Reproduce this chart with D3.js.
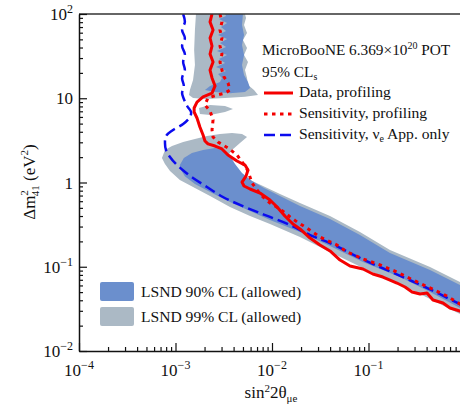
<!DOCTYPE html>
<html>
<head>
<meta charset="utf-8">
<script src="https://cdn.jsdelivr.net/npm/d3@7"></script>
<style>
  body { margin: 0; background: #fff; }
  text { font-family: "Liberation Serif", "DejaVu Serif", serif; fill: #111; }
</style>
</head>
<body>
<svg id="drawing_region"></svg>
<script>
// tick labels
const xTicks = [1e-4, 1e-3, 1e-2, 1e-1];
const xTickExp = ['−4', '−3', '−2', '−1'];
const yTicks = [1e-2, 1e-1, 1, 10, 100];
const yTickBase = ['10', '10', '1', '10', '10'];
const yTickExp = ['−2', '−1', '', '', '2'];

// LSND 99% CL regions  [sin^2 2theta, dm^2]
const lsnd99Main = [
  [7.24e-4, 1.95], [7.78e-4, 2.43], [9.20e-4, 2.71], [1.20e-3, 3.02], [1.59e-3, 3.28],
  [2.12e-3, 3.56], [2.89e-3, 3.77], [3.85e-3, 3.87], [4.89e-3, 3.77], [5.51e-3, 3.47],
  [4.66e-3, 2.94], [3.85e-3, 2.43], [3.42e-3, 2.01], [3.58e-3, 1.61], [4.24e-3, 1.30],
  [5.92e-3, 1.07], [8.07e-3, 0.908], [1.21e-2, 0.730], [1.95e-2, 0.571], [3.99e-2, 0.400],
  [8.16e-2, 0.258], [0.167, 0.158], [0.434, 0.0993], [0.887, 0.0659], [1.13, 0.0607],
  [1.13, 0.0240], [0.887, 0.0275], [0.434, 0.0414], [0.212, 0.0624], [8.77e-2, 0.0966],
  [3.99e-2, 0.150], [1.95e-2, 0.225], [9.53e-3, 0.322], [5.92e-3, 0.400], [3.67e-3, 0.512],
  [2.28e-3, 0.692], [1.59e-3, 0.861], [1.11e-3, 1.07], [8.77e-4, 1.37], [7.78e-4, 1.66]
];
const lsnd99Upper = [
  [1.63e-3, 100], [1.59e-3, 64.6], [1.56e-3, 37.4], [1.59e-3, 24.8], [1.52e-3, 16.5],
  [1.41e-3, 12.5], [1.38e-3, 10.9], [1.52e-3, 10.1], [2.02e-3, 9.80], [3.26e-3, 10.1],
  [5.25e-3, 10.4], [7.16e-3, 10.9], [6.51e-3, 12.5], [5.64e-3, 14.4], [5.51e-3, 17.4],
  [5.25e-3, 21.6], [5.64e-3, 26.9], [5.13e-3, 32.6], [5.51e-3, 39.5], [5.00e-3, 49.1],
  [5.51e-3, 59.4], [5.13e-3, 74.0], [5.38e-3, 89.7], [5.25e-3, 100]
];
const lsnd99Island = [
  [1.75e-3, 7.66], [2.28e-3, 8.32], [3.26e-3, 8.09], [3.94e-3, 7.46],
  [3.26e-3, 6.87], [2.28e-3, 6.33], [1.79e-3, 6.50]
];

// LSND 90% CL regions
const lsnd90Main = [
  [1.11e-3, 1.61], [1.22e-3, 1.95], [1.48e-3, 2.24], [1.93e-3, 2.43], [2.57e-3, 2.57],
  [3.26e-3, 2.37], [3.67e-3, 2.06], [4.14e-3, 1.66], [4.89e-3, 1.30], [6.21e-3, 1.04],
  [8.27e-3, 0.861], [1.21e-2, 0.692], [1.95e-2, 0.526], [3.99e-2, 0.369], [8.16e-2, 0.238],
  [0.167, 0.146], [0.434, 0.0915], [0.887, 0.0607], [1.13, 0.0560],
  [1.13, 0.0298], [0.887, 0.0324], [0.434, 0.0502], [0.212, 0.0755], [8.77e-2, 0.114],
  [3.99e-2, 0.176], [1.95e-2, 0.258], [9.53e-3, 0.359], [5.92e-3, 0.459], [3.67e-3, 0.587],
  [2.28e-3, 0.771], [1.59e-3, 0.959], [1.25e-3, 1.19], [1.11e-3, 1.49]
];
const lsnd90Upper = [
  [3.26e-3, 100], [5.00e-3, 100], [4.89e-3, 74.0], [5.13e-3, 56.3], [4.89e-3, 42.9],
  [5.13e-3, 32.6], [4.89e-3, 24.8], [5.13e-3, 18.9], [5.64e-3, 15.6], [5.92e-3, 13.2],
  [5.25e-3, 11.9], [3.67e-3, 11.5], [2.57e-3, 11.9], [2.02e-3, 12.5], [2.28e-3, 14.0],
  [2.89e-3, 15.6], [3.03e-3, 17.4], [2.76e-3, 19.4], [3.34e-3, 21.0], [2.63e-3, 23.5],
  [3.26e-3, 26.2], [2.82e-3, 29.2], [3.42e-3, 32.6], [2.69e-3, 36.4], [3.34e-3, 40.6],
  [2.89e-3, 45.3], [3.42e-3, 50.5], [2.76e-3, 56.3], [3.34e-3, 62.8], [2.96e-3, 70.1],
  [3.42e-3, 78.2], [2.82e-3, 87.3], [3.34e-3, 94.7]
];

// MicroBooNE contours
const dataProfiling = [
  [2.39e-3, 100], [2.28e-3, 80.4], [2.45e-3, 64.6], [2.28e-3, 51.9], [2.39e-3, 41.7],
  [2.28e-3, 33.5], [2.45e-3, 26.9], [2.28e-3, 21.6], [2.39e-3, 17.4], [2.57e-3, 14.0],
  [2.39e-3, 11.5], [1.93e-3, 10.4], [1.67e-3, 9.02], [1.56e-3, 7.66], [1.56e-3, 6.87],
  [1.67e-3, 5.83], [1.79e-3, 4.56], [1.93e-3, 3.66], [2.02e-3, 3.11], [2.17e-3, 2.87],
  [2.57e-3, 2.71], [3.03e-3, 2.50], [3.50e-3, 2.12], [4.34e-3, 1.80], [5.25e-3, 1.61],
  [5.64e-3, 1.41], [5.38e-3, 1.19], [4.89e-3, 1.01], [5.13e-3, 0.908], [5.92e-3, 0.837],
  [7.51e-3, 0.750], [9.53e-3, 0.620], [1.13e-2, 0.512], [1.36e-2, 0.400], [1.65e-2, 0.322],
  [1.95e-2, 0.281], [2.48e-2, 0.219], [3.14e-2, 0.181], [3.99e-2, 0.154], [5.07e-2, 0.120],
  [6.43e-2, 0.102], [8.77e-2, 0.0940], [0.111, 0.0820], [0.141, 0.0755], [0.167, 0.0696],
  [0.197, 0.0641], [0.239, 0.0575], [0.283, 0.0502], [0.342, 0.0475], [0.404, 0.0488],
  [0.466, 0.0403], [0.592, 0.0371], [0.699, 0.0324], [0.887, 0.0298], [1.0, 0.0283]
];
const sensProfiling = [
  [2.89e-3, 100], [3.03e-3, 80.4], [2.89e-3, 64.6], [3.03e-3, 51.9], [2.89e-3, 41.7],
  [3.03e-3, 33.5], [2.89e-3, 26.9], [3.03e-3, 21.6], [3.18e-3, 17.9], [3.50e-3, 15.2],
  [3.67e-3, 12.5], [3.26e-3, 11.5], [2.69e-3, 10.9], [2.17e-3, 10.1], [2.02e-3, 8.32],
  [2.28e-3, 7.06], [2.45e-3, 5.52], [2.39e-3, 4.20], [2.45e-3, 3.47], [2.76e-3, 3.02],
  [3.10e-3, 2.79], [3.50e-3, 2.57], [4.34e-3, 2.12], [4.89e-3, 1.75], [5.38e-3, 1.53],
  [5.78e-3, 1.26], [6.21e-3, 0.986], [6.99e-3, 0.814], [8.07e-3, 0.673], [9.53e-3, 0.571],
  [1.21e-2, 0.485], [1.54e-2, 0.390], [1.82e-2, 0.340], [2.30e-2, 0.288], [3.14e-2, 0.225],
  [4.72e-2, 0.181], [5.98e-2, 0.150], [8.77e-2, 0.124], [0.132, 0.105], [0.197, 0.0866],
  [0.289, 0.0696], [0.434, 0.0560], [0.650, 0.0450], [0.887, 0.0361], [1.0, 0.0342]
];
const sensNueApp = [
  [1.20e-3, 100], [1.25e-3, 80.4], [1.17e-3, 64.6], [1.25e-3, 51.9], [1.17e-3, 41.7],
  [1.25e-3, 33.5], [1.20e-3, 26.9], [1.25e-3, 21.6], [1.17e-3, 17.4], [1.22e-3, 14.0],
  [1.17e-3, 11.5], [1.22e-3, 9.80], [1.32e-3, 8.09], [1.45e-3, 6.87], [1.41e-3, 5.99],
  [1.20e-3, 4.95], [9.42e-4, 4.20], [7.97e-4, 3.56], [7.78e-4, 2.94], [7.97e-4, 2.43],
  [8.77e-4, 2.01], [1.01e-3, 1.66], [1.22e-3, 1.37], [1.52e-3, 1.13], [2.12e-3, 0.884],
  [3.10e-3, 0.673], [4.66e-3, 0.541], [6.99e-3, 0.447], [9.53e-3, 0.390], [1.54e-2, 0.313],
  [2.48e-2, 0.238], [3.99e-2, 0.191], [8.77e-2, 0.122], [0.167, 0.0880], [0.434, 0.0540],
  [0.887, 0.0361], [1.0, 0.0342]
];

const config = {
  width: 460, height: 405,
  left: 79, right: 465, top: 14, bottom: 351
};
const blueFill = '#6b8fcd';
const grayFill = '#abb9c5';
const red = '#f40000';
const blue = '#0b0bee';

const svg = d3.select('#drawing_region')
  .attr('width', config.width)
  .attr('height', config.height);

const x = d3.scaleLog().domain([1e-4, 1]).range([config.left, config.right]);
const y = d3.scaleLog().domain([1e-2, 1e2]).range([config.bottom, config.top]);

svg.append('clipPath').attr('id', 'plot_clip')
  .append('rect')
  .attr('x', config.left).attr('y', config.top)
  .attr('width', config.right - config.left)
  .attr('height', config.bottom - config.top);

const chart = svg.append('g').attr('clip-path', 'url(#plot_clip)');

const area = d3.line().x(d => x(d[0])).y(d => y(d[1])).curve(d3.curveLinearClosed);
const line = d3.line().x(d => x(d[0])).y(d => y(d[1]));
const smooth = d3.line().x(d => x(d[0])).y(d => y(d[1])).curve(d3.curveCatmullRom);

[lsnd99Main, lsnd99Upper, lsnd99Island].forEach(r => {
  chart.append('path').attr('d', area(r)).attr('fill', grayFill);
});
[lsnd90Main, lsnd90Upper].forEach(r => {
  chart.append('path').attr('d', area(r)).attr('fill', blueFill);
});

chart.append('path').attr('d', smooth(sensNueApp))
  .attr('fill', 'none').attr('stroke', blue)
  .attr('stroke-width', 2.5).attr('stroke-dasharray', '11,5');
chart.append('path').attr('d', line(sensProfiling))
  .attr('fill', 'none').attr('stroke', red)
  .attr('stroke-width', 3).attr('stroke-dasharray', '3.5,4.5');
chart.append('path').attr('d', line(dataProfiling))
  .attr('fill', 'none').attr('stroke', red)
  .attr('stroke-width', 3).attr('stroke-linejoin', 'round');

// frame + axes
svg.append('line')
  .attr('x1', config.left).attr('x2', config.right)
  .attr('y1', config.top).attr('y2', config.top)
  .attr('stroke', '#333').attr('stroke-width', 1.5);

const xAxis = svg.append('g')
  .attr('transform', `translate(0, ${config.bottom})`)
  .call(d3.axisBottom(x).tickValues(x.ticks()).tickSize(-4).tickSizeOuter(0).tickFormat(''));
const yAxis = svg.append('g')
  .attr('transform', `translate(${config.left}, 0)`)
  .call(d3.axisLeft(y).tickValues(y.ticks()).tickSize(-4).tickSizeOuter(0).tickFormat(''));

const isMajor = v => Math.abs(Math.log10(v) - Math.round(Math.log10(v))) < 1e-6;
xAxis.selectAll('.tick line').attr('y2', d => isMajor(d) ? -8 : -4);
yAxis.selectAll('.tick line').attr('x2', d => isMajor(d) ? 8 : 4);
[xAxis, yAxis].forEach(a => {
  a.select('.domain').attr('stroke', '#111').attr('stroke-width', 1.5);
  a.selectAll('.tick line').attr('stroke', '#111').attr('stroke-width', 1.2);
});

xTicks.forEach((v, i) => {
  const t = svg.append('text')
    .attr('x', x(v)).attr('y', 376)
    .attr('text-anchor', 'middle')
    .style('font-size', '17px');
  t.append('tspan').text('10');
  t.append('tspan').attr('dy', -7).style('font-size', '12px').text(xTickExp[i]);
});

yTicks.forEach((v, i) => {
  const t = svg.append('text')
    .attr('x', 73).attr('y', y(v) + 6)
    .attr('text-anchor', 'end')
    .style('font-size', '17px');
  t.append('tspan').text(yTickBase[i]);
  if (yTickExp[i]) {
    t.append('tspan').attr('dy', -7).style('font-size', '12px').text(yTickExp[i]);
  }
});

// axis titles
const xt = svg.append('text')
  .attr('x', 271).attr('y', 398)
  .attr('text-anchor', 'middle')
  .style('font-size', '17px');
xt.append('tspan').text('sin');
xt.append('tspan').attr('dy', -6).style('font-size', '11px').text('2');
xt.append('tspan').attr('dy', 6).text('2θ');
xt.append('tspan').attr('dy', 4).style('font-size', '11px').text('μe');

const yt = svg.append('text')
  .attr('transform', `translate(35, 182) rotate(-90)`)
  .attr('text-anchor', 'middle')
  .style('font-size', '17px');
yt.append('tspan').text('Δm');
yt.append('tspan').attr('dy', -7).style('font-size', '11px').text('2');
yt.append('tspan').attr('dx', -6).attr('dy', 11).style('font-size', '11px').text('41');
yt.append('tspan').attr('dy', -4).text(' (eV');
yt.append('tspan').attr('dy', -7).style('font-size', '11px').text('2');
yt.append('tspan').attr('dy', 7).text(')');

// upper legend
const t1 = svg.append('text').attr('x', 262).attr('y', 55).style('font-size', '15.3px');
t1.append('tspan').text('MicroBooNE  6.369×10');
t1.append('tspan').attr('dy', -6).style('font-size', '10px').text('20');
t1.append('tspan').attr('dy', 6).text(' POT');

const t2 = svg.append('text').attr('x', 262).attr('y', 77).style('font-size', '15.3px');
t2.append('tspan').text('95% CL');
t2.append('tspan').attr('dy', 3).style('font-size', '10px').text('s');

const legendItems = [
  { label: 'Data, profiling', color: red, width: 3, dash: null, ly: 93 },
  { label: 'Sensitivity, profiling', color: red, width: 3, dash: '3.5,4.5', ly: 114 },
  { label: 'Sensitivity, ', color: blue, width: 2.5, dash: '11,5', ly: 135, nue: true }
];
legendItems.forEach(it => {
  svg.append('line')
    .attr('x1', 264).attr('x2', 293)
    .attr('y1', it.ly).attr('y2', it.ly)
    .attr('stroke', it.color).attr('stroke-width', it.width)
    .attr('stroke-dasharray', it.dash);
  const t = svg.append('text').attr('x', 299).attr('y', it.ly + 4).style('font-size', '15.6px');
  t.append('tspan').text(it.label);
  if (it.nue) {
    t.append('tspan').text('ν');
    t.append('tspan').attr('dy', 3).style('font-size', '10px').text('e');
    t.append('tspan').attr('dy', -3).text(' App. only');
  }
});

// LSND legend
const lsndItems = [
  { label: 'LSND 90% CL (allowed)', fill: blueFill, by: 282 },
  { label: 'LSND 99% CL (allowed)', fill: grayFill, by: 307 }
];
lsndItems.forEach(it => {
  svg.append('rect')
    .attr('x', 100).attr('y', it.by)
    .attr('width', 34).attr('height', 19)
    .attr('rx', 2)
    .attr('fill', it.fill);
  svg.append('text')
    .attr('x', 141).attr('y', it.by + 15)
    .style('font-size', '15.6px')
    .text(it.label);
});
</script>
</body>
</html>
